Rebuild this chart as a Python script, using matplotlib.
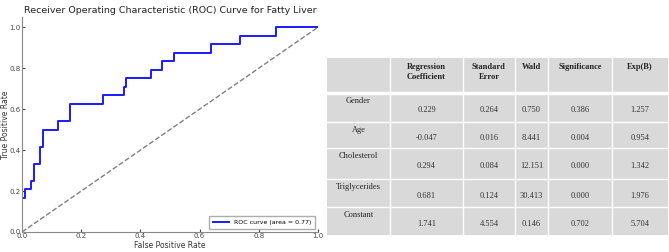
import matplotlib.pyplot as plt
from matplotlib.patches import Rectangle
import numpy as np

# ROC curve (step points)
fpr = [0.0, 0.0, 0.011, 0.011, 0.030, 0.030, 0.042, 0.042, 0.062, 0.062,
       0.072, 0.072, 0.123, 0.123, 0.162, 0.162, 0.273, 0.273, 0.345, 0.345,
       0.351, 0.351, 0.436, 0.436, 0.474, 0.474, 0.515, 0.515, 0.637, 0.637,
       0.736, 0.736, 0.858, 0.858, 1.0]
tpr = [0.0, 0.167, 0.167, 0.208, 0.208, 0.250, 0.250, 0.333, 0.333, 0.417,
       0.417, 0.500, 0.500, 0.542, 0.542, 0.625, 0.625, 0.667, 0.667, 0.708,
       0.708, 0.750, 0.750, 0.792, 0.792, 0.833, 0.833, 0.875, 0.875, 0.917,
       0.917, 0.958, 0.958, 1.0, 1.0]
roc_auc = 0.77

# regression table
col_labels = ["", "Regression\nCoefficient", "Standard\nError", "Wald",
              "Significance", "Exp(B)"]
row_labels = ["Gender", "Age", "Cholesterol", "Triglycerides", "Constant"]
cells = [["0.229", "0.264", "0.750", "0.386", "1.257"],
         ["-0.047", "0.016", "8.441", "0.004", "0.954"],
         ["0.294", "0.084", "12.151", "0.000", "1.342"],
         ["0.681", "0.124", "30.413", "0.000", "1.976"],
         ["1.741", "4.554", "0.146", "0.702", "5.704"]]

W, H = 669, 252
fig = plt.figure(figsize=(W / 100, H / 100), dpi=100)

# --- ROC plot
ax = fig.add_axes([22 / W, 20 / H, 296 / W, 215 / H])
ax.plot(fpr, tpr, color='#1a1aff', lw=1.4,
        label='ROC curve (area = %0.2f)' % roc_auc)
ax.plot([0, 1], [0, 1], color='gray', lw=1, ls='--')
ax.set_xlim(0, 1)
ax.set_ylim(0, 1.05)
ax.set_yticks([0, 0.2, 0.4, 0.6, 0.8, 1.0])
ax.set_xticks([0, 0.2, 0.4, 0.6, 0.8, 1.0])
ax.tick_params(labelsize=5, direction='in', length=2, colors='#444444', pad=1)
for s in ['top', 'right']:
    ax.spines[s].set_visible(False)
for s in ['left', 'bottom']:
    ax.spines[s].set_color('#888888')
ax.set_xlabel('False Positive Rate', fontsize=5.5, labelpad=1, color='#333333')
ax.set_ylabel('True Positive Rate', fontsize=5.5, color='#333333')
ax.yaxis.set_label_coords(-0.042, 0.5)
ax.set_title('Receiver Operating Characteristic (ROC) Curve for Fatty Liver',
             fontsize=6.8, color='#222222', pad=3)
ax.legend(loc='lower right', fontsize=4.5, frameon=True, fancybox=False,
          edgecolor='#999999', handlelength=2.5, borderpad=0.6)

# --- table
tx = fig.add_axes([0, 0, 1, 1])
tx.set_xlim(0, W)
tx.set_ylim(H, 0)
tx.axis('off')
col_edges = [327, 390, 463, 515, 548, 612, 668]
row_edges = [58, 93, 122, 148, 179, 207, 235]
fill = '#d9d9d9'
tx.add_patch(Rectangle((col_edges[0], row_edges[0]),
                       col_edges[-1] - col_edges[0],
                       row_edges[-1] - row_edges[0],
                       facecolor=fill, edgecolor='none'))
for x in col_edges[1:-1]:
    tx.plot([x, x], [row_edges[0], row_edges[-1]], color='white', lw=1)
for i, y in enumerate(row_edges[1:-1]):
    tx.plot([col_edges[0], col_edges[-1]], [y, y], color='white',
            lw=2.5 if i == 0 else 1)

serif = 'Liberation Serif'
for j, lab in enumerate(col_labels):
    cx = (col_edges[j] + col_edges[j + 1]) / 2
    tx.text(cx, row_edges[0] + 5, lab, ha='center', va='top', fontsize=6,
            fontweight='bold', family=serif, color='#222222', linespacing=1.3)
for i, lab in enumerate(row_labels):
    y0, y1 = row_edges[i + 1], row_edges[i + 2]
    tx.text((col_edges[0] + col_edges[1]) / 2, y0 + 4, lab, ha='center',
            va='top', fontsize=6, family=serif, color='#222222')
    for j, v in enumerate(cells[i]):
        cx = (col_edges[j + 1] + col_edges[j + 2]) / 2
        tx.text(cx, (y0 + y1) / 2 + 3, v, ha='center', va='center',
                fontsize=6, family=serif, color='#333333')

fig.savefig('out.png', dpi=100)
